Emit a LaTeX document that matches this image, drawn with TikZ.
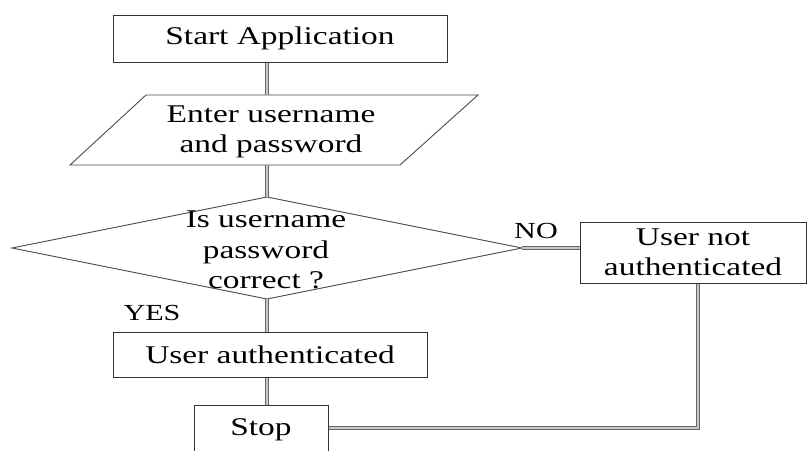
\documentclass[tikz,border=0pt]{standalone}
\usepackage{fontspec}
\setmainfont{Liberation Serif}
\newcommand{\sx}[1]{\scalebox{1.31}[1]{#1}}
\begin{document}
\begin{tikzpicture}[x=1pt,y=-1pt,
  box/.style={draw=black!80, line width=1pt, inner sep=0pt},
  shapeline/.style={draw=black!70, line width=0.9pt},
  conn/.style={draw=black!60, double=black!22, double distance=1.5pt, line width=1.1pt},
  txt/.style={font=\fontsize{25.5}{30.5}\selectfont, align=center, inner sep=0pt, text=black},
  lbl/.style={inner sep=0pt, text=black}]
\useasboundingbox (0,0) rectangle (808,450);
\clip (0,0) rectangle (808,450);
\fill[white] (0,0) rectangle (808,450);

% guide coordinates
\coordinate (cx) at (267,0);
\coordinate (inTop) at (267,95);
\coordinate (inBot) at (267,165);
\coordinate (dT) at (267,197);
\coordinate (dB) at (267,299);
\coordinate (dL) at (12,248);
\coordinate (dR) at (522,248);
\coordinate (corner) at (698,428);

% Start
\node[box, txt, minimum width=334pt, minimum height=47pt] (start) at (280,38.5) {\sx{Start Application}};

% Input parallelogram
\draw[shapeline] (146,95) -- (478,95) -- (400,165) -- (70,165) -- cycle;
\node[txt] (input) at (271,132) {\sx{Enter username}\\\sx{and password}};

% Decision diamond
\draw[shapeline] (dT) -- (dR) -- (dB) -- (dL) -- cycle;
\node[txt] (dec) at (266,250) {\sx{Is username}\\\sx{password}\\\sx{correct ?}};

% Not authenticated
\node[box, txt, minimum width=226pt, minimum height=61pt] (unauth) at (693,252.5) {\sx{User not}\\\sx{authenticated}};

% Authenticated
\node[box, txt, minimum width=314pt, minimum height=45pt] (ua) at (270,354.5) {\sx{User authenticated}};

% Stop
\node[box, txt, minimum width=134pt, minimum height=50pt] (stop) at (261,430) {\sx{Stop}};

% Labels
\node[lbl, font=\fontsize{23}{26}\selectfont] (no) at (536,231) {\sx{NO}};
\node[lbl, font=\fontsize{23}{26}\selectfont] (yes) at (152,313) {\sx{YES}};

% Connectors
\draw[conn] (start.south -| cx) -- (inTop);
\draw[conn] (inBot) -- (dT);
\draw[conn] (dR) -- (dR -| unauth.west);
\draw[conn] (dB) -- (dB |- ua.north);
\draw[conn] (ua.south -| cx) -- (stop.north -| cx);
\draw[conn] (unauth.south -| corner) -- (corner) -- (corner -| stop.east);
\end{tikzpicture}
\end{document}
